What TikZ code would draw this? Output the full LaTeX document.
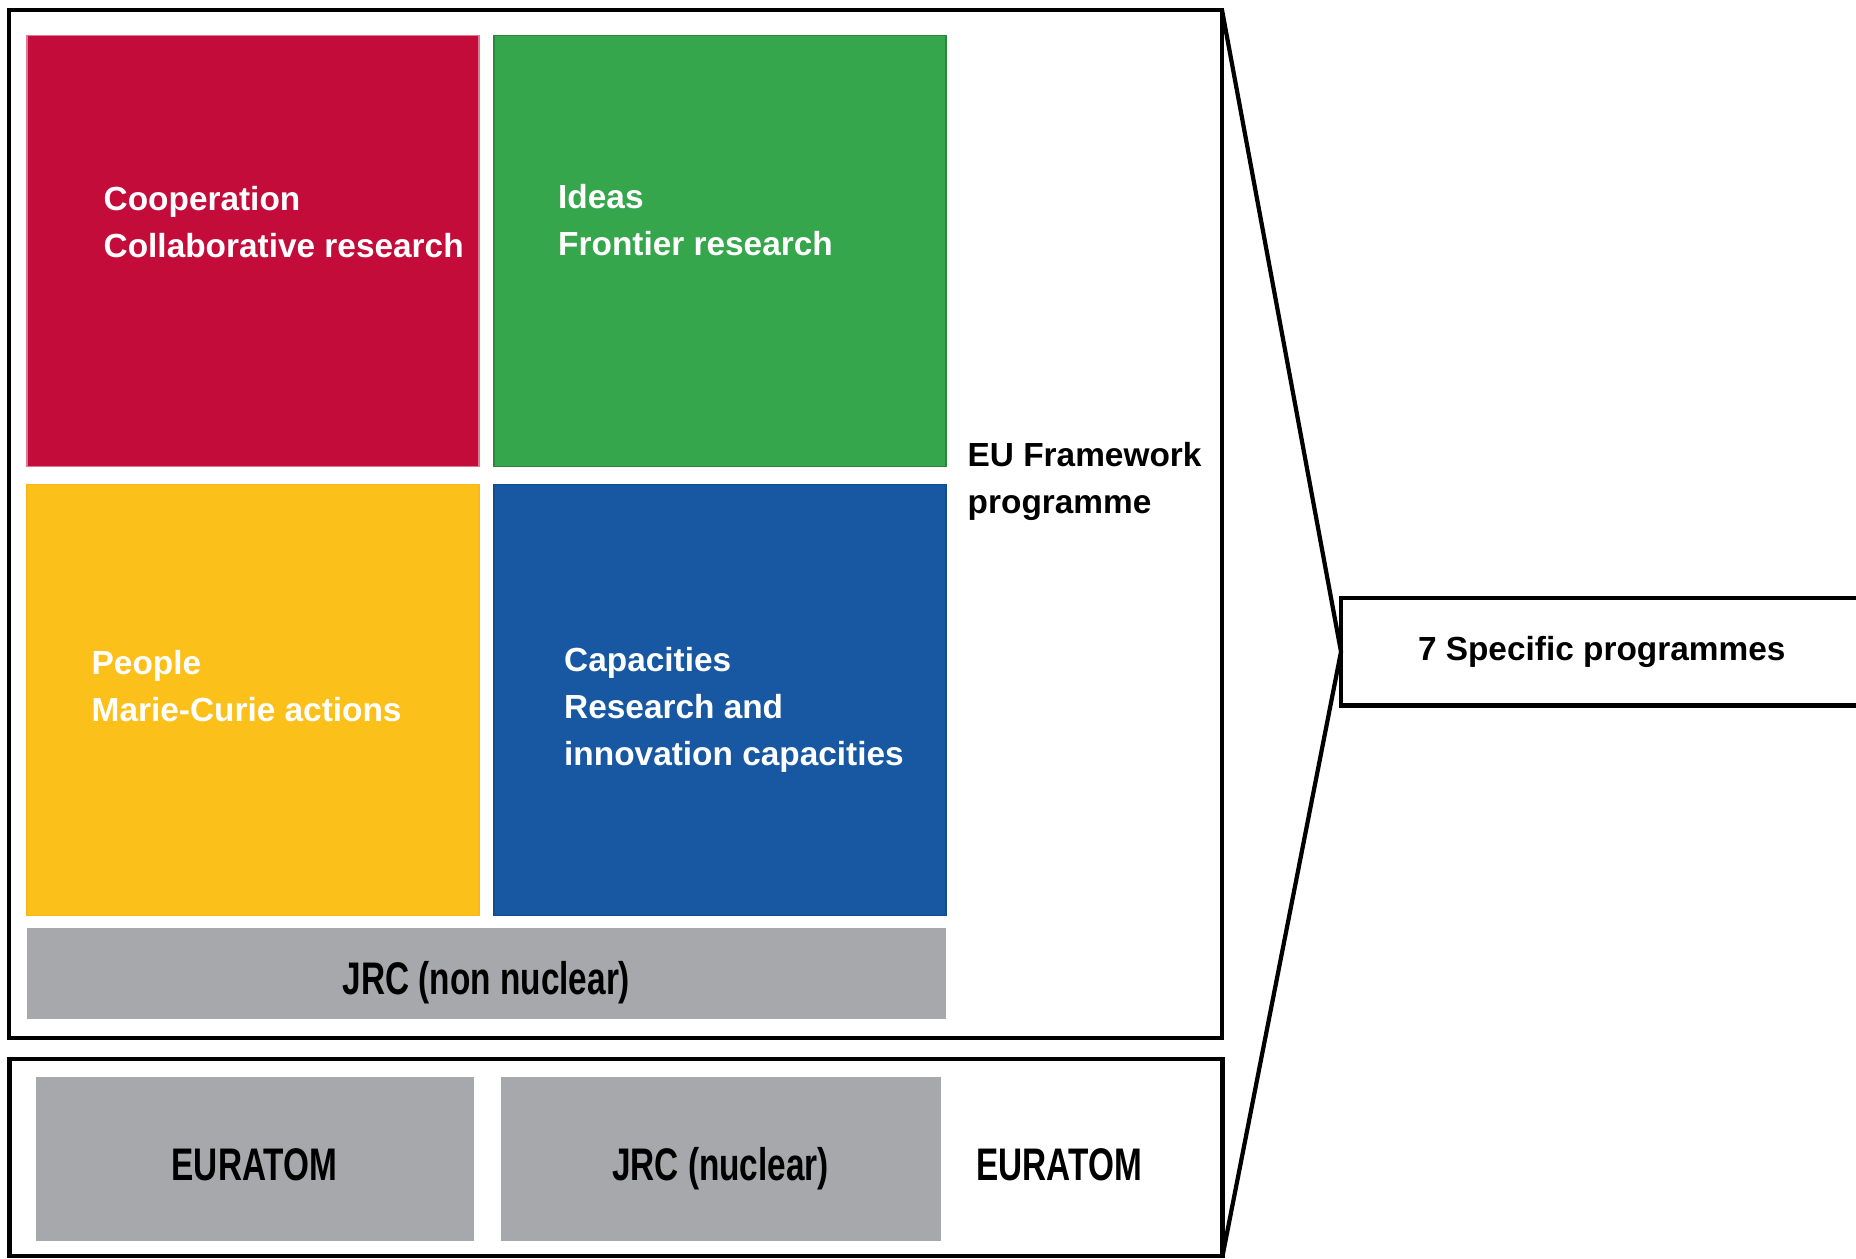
\documentclass[tikz,border=0pt]{standalone}
\usepackage{fontspec}
\setmainfont{Liberation Sans}
\newfontfamily\narrowsans{Liberation Sans}[FakeStretch=0.73]
\usetikzlibrary{positioning}
\definecolor{coopred}{RGB}{196,12,58}
\definecolor{ideagreen}{RGB}{54,166,76}
\definecolor{peopleyellow}{RGB}{251,192,26}
\definecolor{capblue}{RGB}{24,88,163}
\definecolor{jrcgrey}{RGB}{167,168,171}

\begin{document}
\begin{tikzpicture}[
            node distance = 0.15cm, % gap between tiles
            frame/.style = {draw, line width=1.2pt, inner sep=0, outer sep=0, anchor=north west},
            tile/.style = {inner sep=0, outer sep=0, line width=0.5pt, minimum width=4.52cm, minimum height=4.31cm},
            greybox/.style = {fill=jrcgrey, inner sep=0, outer sep=0, text height=12.4pt, text depth=0pt,
                font=\narrowsans\bfseries\fontsize{13}{15}\selectfont},
            wtext/.style = {text=white, align=left, inner sep=0, anchor=west,
                font=\bfseries\fontsize{9.5}{13.4}\selectfont},
            btext/.style = {text=black, align=left, inner sep=0, anchor=west,
                font=\bfseries\fontsize{9.5}{13.4}\selectfont}
        ]

        \useasboundingbox (0,0) rectangle (18.56,-12.58);

	% framework programme
        \node[frame, minimum width=12.13cm, minimum height=10.28cm] (fp) at (0.09,-0.10) {};
        \node[tile, fill=coopred, draw=coopred!55!white, anchor=north west] (coop) at (0.27,-0.355) {};
        \node[tile, fill=ideagreen, draw=ideagreen!80!black] (ideas) [right=of coop] {};
        \node[tile, fill=peopleyellow, draw=peopleyellow!85!orange] (people) [below=0.18cm of coop] {};
        \node[tile, fill=capblue, draw=capblue!85!black] (cap) [right=of people] {};
        \node[greybox, minimum width=9.19cm, minimum height=0.91cm, anchor=north west] (jrc) at ([yshift=-0.12cm]people.south west) {JRC (non nuclear)};

        \node[wtext] (coopT) at ([xshift=0.76cm, yshift=-1.87cm]coop.north west) {Cooperation\\Collaborative research};
        \node[wtext] (ideasT) at ([xshift=0.635cm, yshift=-1.845cm]ideas.north west) {Ideas\\Frontier research};
        \node[wtext] (peopleT) at ([xshift=0.64cm, yshift=-2.02cm]people.north west) {People\\Marie-Curie actions};
        \node[wtext] (capT) at ([xshift=0.695cm, yshift=-2.25cm]cap.north west) {Capacities\\Research and\\innovation capacities};
        \node[btext] (fpT) at (9.67,-4.81) {EU Framework\\programme};

	% euratom
        \node[frame, minimum width=12.13cm, minimum height=1.97cm] (eu) at (0.095,-10.59) {};
        \node[greybox, minimum width=4.38cm, minimum height=1.635cm, anchor=north west] (eurat) at (0.355,-10.77) {EURATOM};
        \node[greybox, minimum width=4.40cm, minimum height=1.635cm] (jrcn) [right=0.27cm of eurat] {JRC (nuclear)};
        \node[greybox, fill=none, right=0.36cm of jrcn] (euT) {EURATOM};

	% specific programmes
        \node[inner sep=0, minimum width=5.2cm, minimum height=1.06cm, anchor=north west,
              font=\bfseries\fontsize{9.5}{12}\selectfont] (spec) at (13.41,-5.98) {7 Specific programmes};
        \draw[line width=1.2pt] (spec.north east) -- (spec.north west) -- (spec.south west) -- (spec.south east);

        \draw[line width=1.2pt] (fp.north east) -- (spec.west) -- (eu.south east);

  \end{tikzpicture}
\end{document}
